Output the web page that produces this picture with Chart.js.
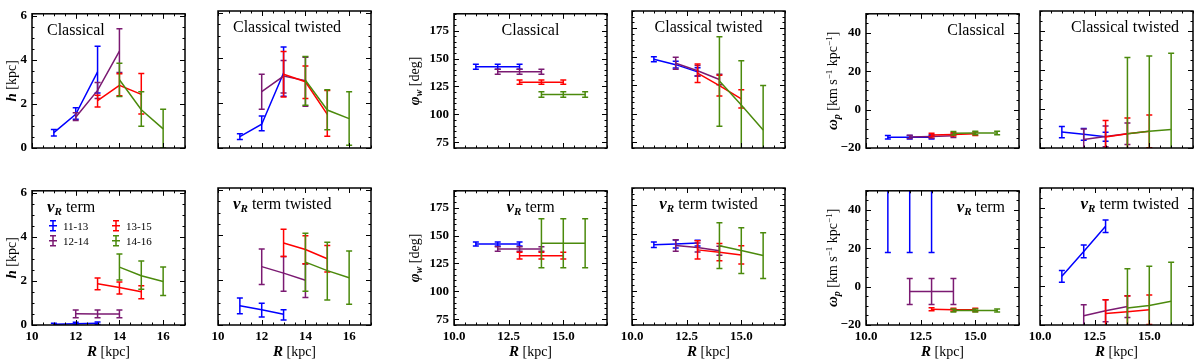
<!DOCTYPE html>
<html>
<head>
<meta charset="utf-8">
<script src="https://cdn.jsdelivr.net/npm/chart.js@4.4.1/dist/chart.umd.min.js"></script>
<style>
html, body { margin: 0; padding: 0; background: #fff; }
#fig { position: relative; width: 1200px; height: 359px; overflow: hidden; }
#fig canvas { position: absolute; }
</style>
</head>
<body>
<div id="fig"></div>
<script>
// radial bins and the R values of their three points
var binLabels = ['11-13', '12-14', '13-15', '14-16'];
var binR = [[11, 12, 13], [12, 13, 14], [13, 14, 15], [14, 15, 16]];
var binColors = ['#0000ff', '#7b1a72', '#ff0000', '#4b8a0c'];

// tick labels
var hTicks = [0, 2, 4, 6];
var phiTicks = [75, 100, 125, 150, 175];
var omegaTicks = [-20, 0, 20, 40];
var rTicksH = [10, 12, 14, 16];
var rTicks = [10, 12.5, 15];

// h [kpc]  (value, lower end, upper end of error bar)
var hClassical   = [[0.70, 1.53, 3.46], [1.40, 2.62, 4.40], [2.15, 2.85, 2.44], [3.10, 1.74, 0.87]];
var hClassicalLo = [[0.55, 1.31, 2.50], [1.25, 2.25, 3.43], [1.86, 2.37, 1.54], [2.34, 0.99, 0.00]];
var hClassicalHi = [[0.84, 1.83, 4.62], [1.60, 2.98, 5.42], [2.40, 3.37, 3.39], [3.85, 2.56, 1.76]];

var hTwisted   = [[0.51, 1.06, 3.34], [2.51, 3.20, 3.00], [3.28, 2.95, 1.50], [3.02, 1.69, 1.31]];
var hTwistedLo = [[0.38, 0.77, 2.30], [1.72, 2.45, 1.86], [2.27, 2.20, 0.52], [1.90, 0.81, 0.12]];
var hTwistedHi = [[0.63, 1.42, 4.50], [3.28, 3.90, 4.04], [4.30, 3.65, 2.56], [4.07, 2.59, 2.51]];

var hVR   = [[0.03, 0.06, 0.08], [0.51, 0.50, 0.50], [1.88, 1.70, 1.51], [2.63, 2.24, 1.98]];
var hVRLo = [[-0.03, 0.00, 0.02], [0.33, 0.33, 0.33], [1.60, 1.41, 1.19], [2.04, 1.63, 1.34]];
var hVRHi = [[0.08, 0.12, 0.14], [0.68, 0.68, 0.68], [2.14, 1.95, 1.78], [3.23, 2.91, 2.64]];

var hVRTwisted   = [[0.86, 0.68, 0.48], [2.60, 2.31, 1.99], [3.65, 3.36, 2.95], [2.80, 2.42, 2.10]];
var hVRTwistedLo = [[0.50, 0.36, 0.22], [1.80, 1.50, 1.22], [3.05, 2.73, 2.36], [1.50, 1.11, 0.92]];
var hVRTwistedHi = [[1.20, 0.97, 0.68], [3.38, 3.05, 2.72], [4.26, 3.97, 3.54], [4.08, 3.69, 3.30]];

// phi_w [deg]
var phiClassical   = [[142.7, 142.7, 142.7], [138.2, 138.2, 138.2], [128.9, 128.9, 128.9], [117.8, 117.8, 117.8]];
var phiClassicalLo = [[140.4, 140.4, 140.4], [136.0, 136.0, 136.0], [127.0, 127.0, 127.0], [115.3, 115.3, 115.3]];
var phiClassicalHi = [[145.0, 145.0, 145.0], [140.4, 140.4, 140.4], [130.8, 130.8, 130.8], [120.3, 120.3, 120.3]];

var phiTwisted   = [[147.8, 143.0, 136.7], [144.2, 137.6, 130.0], [135.5, 124.7, 113.0], [128.6, 107.6, 85.8]];
var phiTwistedLo = [[145.6, 140.0, 133.0], [139.0, 133.0, 125.5], [127.3, 115.5, 105.0], [89.0, 68.5, 47.0]];
var phiTwistedHi = [[150.0, 146.0, 140.3], [149.5, 142.2, 134.5], [143.6, 133.7, 121.0], [167.5, 146.5, 124.7]];

var phiVR   = [[142.4, 142.4, 142.4], [137.9, 137.9, 137.9], [132.0, 132.0, 132.0], [143.2, 143.2, 143.2]];
var phiVRLo = [[140.6, 140.6, 140.6], [135.9, 135.9, 135.9], [129.0, 129.0, 129.0], [121.2, 121.2, 121.2]];
var phiVRHi = [[144.2, 144.2, 144.2], [139.9, 139.9, 139.9], [135.0, 135.0, 135.0], [165.0, 165.0, 165.0]];

var phiVRTwisted   = [[140.3, 140.9, 141.8], [139.7, 137.9, 135.0], [135.8, 133.8, 131.4], [139.4, 135.2, 130.8]];
var phiVRTwistedLo = [[137.8, 137.4, 139.3], [134.7, 133.9, 131.0], [127.8, 126.3, 123.4], [119.5, 115.2, 110.8]];
var phiVRTwistedHi = [[142.8, 144.4, 144.3], [144.7, 141.9, 139.0], [143.8, 141.3, 139.4], [159.6, 155.2, 150.8]];

// omega_p [km s^-1 kpc^-1]
var omClassical   = [[-14.4, -14.4, -14.4], [-14.2, -14.0, -13.6], [-13.2, -12.9, -12.6], [-12.3, -12.2, -12.2]];
var omClassicalLo = [[-15.3, -15.3, -15.3], [-15.1, -14.9, -14.5], [-14.1, -13.8, -13.5], [-13.2, -13.1, -13.1]];
var omClassicalHi = [[-13.5, -13.5, -13.5], [-13.3, -13.1, -12.7], [-12.3, -12.0, -11.7], [-11.4, -11.3, -11.3]];

var omTwisted   = [[-11.8, -13.0, -14.2], [-15.7, -14.1, -12.7], [-14.4, -12.7, -11.5], [-12.7, -11.5, -10.6]];
var omTwistedLo = [[-14.8, -16.0, -16.5], [-21.3, -19.4, -18.2], [-22.8, -20.7, -19.9], [-51.7, -50.0, -49.6]];
var omTwistedHi = [[-9.0, -10.0, -12.0], [-10.3, -8.8, -7.2], [-6.0, -4.7, -3.1], [26.3, 27.0, 28.4]];

var omVR   = [[60, 60, 60], [-2.5, -2.5, -2.5], [-11.8, -12.0, -12.1], [-12.4, -12.4, -12.4]];
var omVRLo = [[17.8, 17.8, 17.8], [-9.3, -9.3, -9.3], [-12.6, -12.8, -12.9], [-13.2, -13.2, -13.2]];
var omVRHi = [[102, 102, 102], [4.3, 4.3, 4.3], [-11.0, -11.2, -11.3], [-11.6, -11.6, -11.6]];

var omVRTwisted   = [[4.9, 17.6, 30.5], [-15.3, -12.7, -10.6], [-14.1, -13.2, -12.2], [-11.3, -10.0, -7.9]];
var omVRTwistedLo = [[1.8, 14.3, 27.3], [-20.9, -18.3, -16.2], [-21.1, -21.2, -19.7], [-31.3, -30.0, -27.9]];
var omVRTwistedHi = [[7.9, 20.9, 33.7], [-9.7, -7.1, -5.1], [-7.1, -5.2, -4.7], [8.7, 10.0, 12.1]];

// ---- layout ----
var PW = 153, PH = 137, ML = 60, MR = 8, MT = 10, MB = 40;
var colLeft = [32, 218, 454, 632, 866, 1040];
var rowTop = [11, 188];
var SERIF = '"Liberation Serif", "DejaVu Serif", serif';
function fnt(style, size) { return style + ' ' + size + 'px ' + SERIF; }

var unitKpc = { t: ' [kpc]', f: fnt('normal', 14) };
var vR = function (rest) {
  return [{ t: 'v', f: fnt('bold italic', 17) }, { t: 'R', f: fnt('bold italic', 11), dy: 3 }, { t: rest, f: fnt('normal', 16) }];
};
var plain = function (s) { return [{ t: s, f: fnt('normal', 16) }]; };

var qH = {
  yMin: 0, yMax: 6.1, yTicks: hTicks, yMinor: 0.5, xTicks: rTicksH, xMinor: 0.5,
  xFmt: function (v) { return String(v); }, yFmt: function (v) { return String(v); },
  yTitle: [{ t: 'h', f: fnt('bold italic', 15) }, unitKpc], yTitleDx: -21, titleAlign: 'left'
};
var qPhi = {
  yMin: 70, yMax: 190, yTicks: phiTicks, yMinor: 5, xTicks: rTicks, xMinor: 0.5,
  xFmt: function (v) { return v.toFixed(1); }, yFmt: function (v) { return String(v); },
  yTitle: [{ t: 'φ', f: fnt('bold italic', 15) }, { t: 'w', f: fnt('bold italic', 10), dy: 3 }, { t: ' [deg]', f: fnt('normal', 14) }],
  yTitleDx: -40, titleAlign: 'center'
};
var qOm = {
  yMin: -20, yMax: 50, yTicks: omegaTicks, yMinor: 5, xTicks: rTicks, xMinor: 0.5,
  xFmt: function (v) { return v.toFixed(1); },
  yFmt: function (v) { return v < 0 ? '\u2212' + Math.abs(v) : String(v); },
  yTitle: [{ t: 'ω', f: fnt('bold italic', 15) }, { t: 'p', f: fnt('bold italic', 10), dy: 3 },
           { t: ' [km s', f: fnt('normal', 14) }, { t: '\u22121', f: fnt('normal', 9), dy: -5 },
           { t: ' kpc', f: fnt('normal', 14) }, { t: '\u22121', f: fnt('normal', 9), dy: -5 },
           { t: ']', f: fnt('normal', 14) }],
  yTitleDx: -34, titleAlign: 'right'
};

var panels = [
  { q: qH, col: 0, row: 0, title: plain('Classical'), v: hClassical, lo: hClassicalLo, hi: hClassicalHi },
  { q: qH, col: 1, row: 0, title: plain('Classical twisted'), v: hTwisted, lo: hTwistedLo, hi: hTwistedHi },
  { q: qH, col: 0, row: 1, title: vR(' term'), v: hVR, lo: hVRLo, hi: hVRHi, legend: true },
  { q: qH, col: 1, row: 1, title: vR(' term twisted'), v: hVRTwisted, lo: hVRTwistedLo, hi: hVRTwistedHi },
  { q: qPhi, col: 2, row: 0, title: plain('Classical'), v: phiClassical, lo: phiClassicalLo, hi: phiClassicalHi },
  { q: qPhi, col: 3, row: 0, title: plain('Classical twisted'), v: phiTwisted, lo: phiTwistedLo, hi: phiTwistedHi },
  { q: qPhi, col: 2, row: 1, title: vR(' term'), v: phiVR, lo: phiVRLo, hi: phiVRHi },
  { q: qPhi, col: 3, row: 1, title: vR(' term twisted'), v: phiVRTwisted, lo: phiVRTwistedLo, hi: phiVRTwistedHi },
  { q: qOm, col: 4, row: 0, title: plain('Classical'), v: omClassical, lo: omClassicalLo, hi: omClassicalHi },
  { q: qOm, col: 5, row: 0, title: plain('Classical twisted'), v: omTwisted, lo: omTwistedLo, hi: omTwistedHi },
  { q: qOm, col: 4, row: 1, title: vR(' term'), v: omVR, lo: omVRLo, hi: omVRHi },
  { q: qOm, col: 5, row: 1, title: vR(' term twisted'), v: omVRTwisted, lo: omVRTwistedLo, hi: omVRTwistedHi }
];

// text made of differently styled pieces
function richWidth(ctx, segs) {
  var w = 0;
  segs.forEach(function (s) { ctx.font = s.f; w += ctx.measureText(s.t).width; });
  return w;
}
function drawRich(ctx, segs, x, y, align) {
  var w = richWidth(ctx, segs);
  var cx = align === 'center' ? x - w / 2 : (align === 'right' ? x - w : x);
  ctx.textAlign = 'left';
  ctx.textBaseline = 'alphabetic';
  ctx.fillStyle = '#000';
  segs.forEach(function (s) {
    ctx.font = s.f;
    ctx.fillText(s.t, cx, y + (s.dy || 0));
    cx += ctx.measureText(s.t).width;
  });
}

function errBar(ctx, x, y0, y1) {
  ctx.moveTo(x, y0); ctx.lineTo(x, y1);
  ctx.moveTo(x - 3, y0); ctx.lineTo(x + 3, y0);
  ctx.moveTo(x - 3, y1); ctx.lineTo(x + 3, y1);
}

var decor = {
  id: 'decor',
  afterDatasetDraw: function (chart, args) {
    var ds = chart.data.datasets[args.index];
    var xs = chart.scales.x, ys = chart.scales.y, a = chart.chartArea, ctx = chart.ctx;
    ctx.save();
    ctx.beginPath();
    ctx.rect(a.left, a.top, a.right - a.left, a.bottom - a.top);
    ctx.clip();
    ctx.strokeStyle = ds.borderColor;
    ctx.lineWidth = 1.5;
    ctx.beginPath();
    ds.data.forEach(function (d) {
      errBar(ctx, xs.getPixelForValue(d.x), ys.getPixelForValue(d.lo), ys.getPixelForValue(d.hi));
    });
    ctx.stroke();
    ctx.restore();
  },
  afterDraw: function (chart, args, o) {
    var p = o.panel, q = p.q;
    var xs = chart.scales.x, ys = chart.scales.y, a = chart.chartArea, ctx = chart.ctx;
    ctx.save();
    // inward ticks on all four sides
    ctx.strokeStyle = '#000';
    ctx.lineWidth = 1;
    ctx.beginPath();
    var v, px, len;
    for (v = xs.min; v <= xs.max + 1e-9; v += q.xMinor) {
      px = Math.round(xs.getPixelForValue(v)) + 0.5;
      len = q.xTicks.indexOf(+v.toFixed(3)) >= 0 ? 5 : 2.5;
      ctx.moveTo(px, a.bottom); ctx.lineTo(px, a.bottom - len);
      ctx.moveTo(px, a.top); ctx.lineTo(px, a.top + len);
    }
    for (v = ys.min; v <= ys.max + 1e-9; v += q.yMinor) {
      px = Math.round(ys.getPixelForValue(v)) + 0.5;
      len = q.yTicks.indexOf(+v.toFixed(3)) >= 0 ? 5 : 2.5;
      ctx.moveTo(a.left, px); ctx.lineTo(a.left + len, px);
      ctx.moveTo(a.right, px); ctx.lineTo(a.right - len, px);
    }
    ctx.stroke();
    // frame
    ctx.lineWidth = 1.5;
    ctx.strokeRect(a.left, a.top, a.right - a.left, a.bottom - a.top);

    // panel title
    var ty = a.top + 21;
    if (q.titleAlign === 'left') drawRich(ctx, p.title, a.left + 15, ty, 'left');
    else if (q.titleAlign === 'center') drawRich(ctx, p.title, (a.left + a.right) / 2, ty, 'center');
    else drawRich(ctx, p.title, a.right - 14, ty, 'right');

    // axis titles
    if (p.col % 2 === 0) {
      ctx.save();
      ctx.translate(a.left + q.yTitleDx + 5, (a.top + a.bottom) / 2);
      ctx.rotate(-Math.PI / 2);
      drawRich(ctx, q.yTitle, 0, 0, 'center');
      ctx.restore();
    }
    if (p.row === 1) {
      drawRich(ctx, [{ t: 'R', f: fnt('bold italic', 15) }, unitKpc], (a.left + a.right) / 2, a.bottom + 31, 'center');
    }

    // legend
    if (p.legend) {
      chart.data.datasets.forEach(function (ds, i) {
        var lx = a.left + (i < 2 ? 21 : 84);
        var ly = a.top + (i % 2 === 0 ? 35 : 50);
        ctx.strokeStyle = ds.borderColor;
        ctx.lineWidth = 1.5;
        ctx.beginPath();
        ctx.moveTo(lx - 4, ly); ctx.lineTo(lx + 4, ly);
        errBar(ctx, lx, ly - 5, ly + 5);
        ctx.stroke();
        drawRich(ctx, [{ t: ds.label, f: fnt('normal', 11) }], lx + 10, ly + 4, 'left');
      });
    }
    ctx.restore();
  }
};

var fig = document.getElementById('fig');
var tickFont = { family: '"Liberation Serif", serif', size: 13, weight: 'bold' };

panels.forEach(function (p) {
  var q = p.q;
  var canvas = document.createElement('canvas');
  canvas.width = PW + ML + MR;
  canvas.height = PH + MT + MB;
  canvas.style.left = (colLeft[p.col] - ML) + 'px';
  canvas.style.top = (rowTop[p.row] - MT) + 'px';
  fig.appendChild(canvas);

  // green is drawn last, blue first (as in the reference)
  var datasets = binLabels.map(function (lab, i) {
    return {
      label: lab,
      data: binR[i].map(function (r, j) { return { x: r, y: p.v[i][j], lo: p.lo[i][j], hi: p.hi[i][j] }; }),
      borderColor: binColors[i],
      backgroundColor: binColors[i],
      borderWidth: 1.5,
      showLine: true,
      pointRadius: 0,
      order: binLabels.length - i,
      clip: 0
    };
  });

  new Chart(canvas, {
    type: 'scatter',
    data: { datasets: datasets },
    plugins: [decor],
    options: {
      responsive: false,
      animation: false,
      devicePixelRatio: 1,
      layout: { padding: { top: MT, right: MR, left: 0, bottom: 0 } },
      plugins: { legend: { display: false }, tooltip: { enabled: false }, decor: { panel: p } },
      scales: {
        x: {
          type: 'linear', min: 10, max: 17,
          afterBuildTicks: function (s) { s.ticks = q.xTicks.map(function (t) { return { value: t }; }); },
          afterFit: function (s) { s.height = MB; },
          grid: { display: false, drawTicks: false }, border: { display: false },
          ticks: { display: p.row === 1, padding: 4, color: '#000', font: tickFont, maxRotation: 0, autoSkip: false,
                   callback: function (val) { return q.xFmt(val); } }
        },
        y: {
          type: 'linear', min: q.yMin, max: q.yMax,
          afterBuildTicks: function (s) { s.ticks = q.yTicks.map(function (t) { return { value: t }; }); },
          afterFit: function (s) { s.width = ML; },
          grid: { display: false, drawTicks: false }, border: { display: false },
          ticks: { display: p.col % 2 === 0, padding: 5, color: '#000', font: tickFont, autoSkip: false,
                   callback: function (val) { return q.yFmt(val); } }
        }
      }
    }
  });
});
</script>
</body>
</html>
